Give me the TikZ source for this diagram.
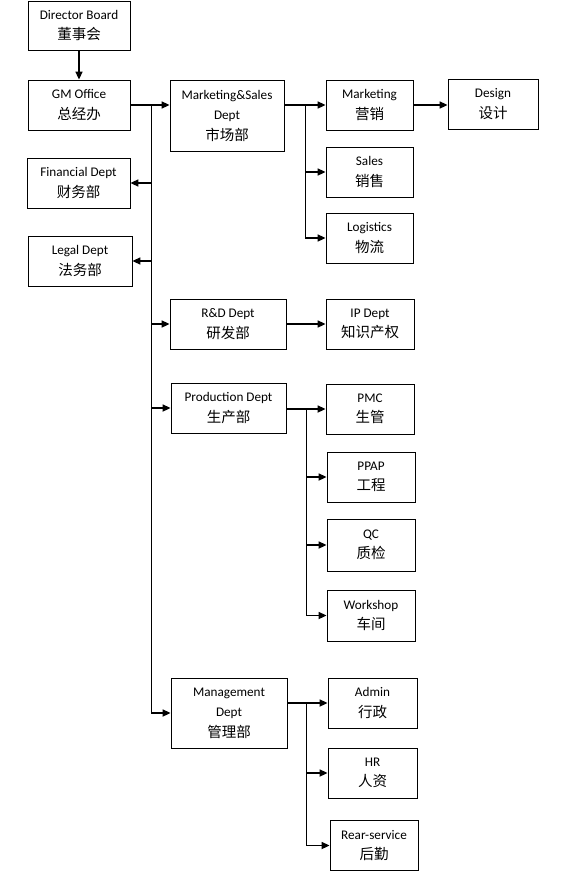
\documentclass[tikz,border=0pt]{standalone}
\usepackage{fontspec}
\setmainfont{Carlito}
\newfontfamily\zhfont{Noto Sans CJK SC}
\newcommand\zh[1]{{\zhfont\fontsize{14.5}{20.5}\selectfont #1}}
\usetikzlibrary{arrows.meta}
\begin{document}
\begin{tikzpicture}[x=1pt,y=-1pt,
  box/.style={draw, line width=0.8pt, inner sep=0pt, align=center,
    font=\fontsize{13.2}{20.5}\selectfont},
  arr/.style={line width=1.6pt, -{Triangle[length=8pt,width=7pt]}},
  trunk/.style={line width=0.9pt}]
\useasboundingbox (0,0) rectangle (567,871);
% boxes
\node[box, minimum width=102pt, minimum height=49pt] (dir) at (79,25.5) {Director Board\\\zh{董事会}};
\node[box, minimum width=102pt, minimum height=50pt] (gm) at (79,105) {GM Office\\\zh{总经办}};
\node[box, minimum width=114pt, minimum height=71pt] (ms) at (227,115.5) {Marketing\&Sales\\Dept\\\zh{市场部}};
\node[box, minimum width=103pt, minimum height=50pt] (fin) at (78.5,183) {Financial Dept\\\zh{财务部}};
\node[box, minimum width=104pt, minimum height=50pt] (legal) at (80,261) {Legal Dept\\\zh{法务部}};
\node[box, minimum width=116pt, minimum height=50pt] (rd) at (228,324) {R\&D Dept\\\zh{研发部}};
\node[box, minimum width=88pt, minimum height=50pt] (ip) at (370,324) {IP Dept\\\zh{知识产权}};
\node[box, minimum width=115pt, minimum height=50pt] (prod) at (228.5,408) {Production Dept\\\zh{生产部}};
\node[box, minimum width=88pt, minimum height=50pt] (pmc) at (370,409) {PMC\\\zh{生管}};
\node[box, minimum width=88pt, minimum height=50pt] (ppap) at (371,477) {PPAP\\\zh{工程}};
\node[box, minimum width=88pt, minimum height=52pt] (qc) at (371,545) {QC\\\zh{质检}};
\node[box, minimum width=88pt, minimum height=51pt] (ws) at (371,615.5) {Workshop\\\zh{车间}};
\node[box, minimum width=116pt, minimum height=70pt] (mg) at (229,713) {Management\\Dept\\\zh{管理部}};
\node[box, minimum width=89pt, minimum height=50pt] (admin) at (372.5,703) {Admin\\\zh{行政}};
\node[box, minimum width=89pt, minimum height=50pt] (hr) at (372.5,773) {HR\\\zh{人资}};
\node[box, minimum width=88pt, minimum height=50pt] (rear) at (374,845.5) {Rear-service\\\zh{后勤}};
\node[box, minimum width=87pt, minimum height=50pt] (mkt) at (369.5,105) {Marketing\\\zh{营销}};
\node[box, minimum width=90pt, minimum height=50pt] (des) at (493,104) {Design\\\zh{设计}};
\node[box, minimum width=87pt, minimum height=50pt] (sales) at (369.5,172) {Sales\\\zh{销售}};
\node[box, minimum width=87pt, minimum height=50pt] (log) at (369.5,238) {Logistics\\\zh{物流}};
% trunk coordinates
\coordinate (t) at (151,105);
\coordinate (tm) at (305,105);
\coordinate (tp) at (306,409);
\coordinate (tg) at (306,703);
% connectors
\draw[arr] (dir.south) -- (gm.north);
\draw[arr] (gm.east) -- (gm.east -| ms.west);
\draw[trunk] (t) -- (t |- mg.west);
\draw[arr] (t |- fin.east) -- (fin.east);
\draw[arr] (t |- legal.east) -- (legal.east);
\draw[arr] (t |- rd.west) -- (rd.west);
\draw[arr] (t |- prod.west) -- (prod.west);
\draw[arr] (t |- mg.west) -- (mg.west);
% marketing
\draw[arr] (ms.east |- mkt.west) -- (mkt.west);
\draw[arr] (mkt.east) -- (mkt.east -| des.west);
\draw[trunk] (tm) -- (tm |- log.west);
\draw[arr] (tm |- sales.west) -- (sales.west);
\draw[arr] (tm |- log.west) -- (log.west);
% R&D
\draw[arr] (rd.east) -- (ip.west);
% production
\draw[arr] (prod.east |- pmc.west) -- (pmc.west);
\draw[trunk] (tp) -- (tp |- ws.west);
\draw[arr] (tp |- ppap.west) -- (ppap.west);
\draw[arr] (tp |- qc.west) -- (qc.west);
\draw[arr] (tp |- ws.west) -- (ws.west);
% management
\draw[arr] (mg.east |- admin.west) -- (admin.west);
\draw[trunk] (tg) -- (tg |- rear.west);
\draw[arr] (tg |- hr.west) -- (hr.west);
\draw[arr] (tg |- rear.west) -- (rear.west);
\end{tikzpicture}
\end{document}
